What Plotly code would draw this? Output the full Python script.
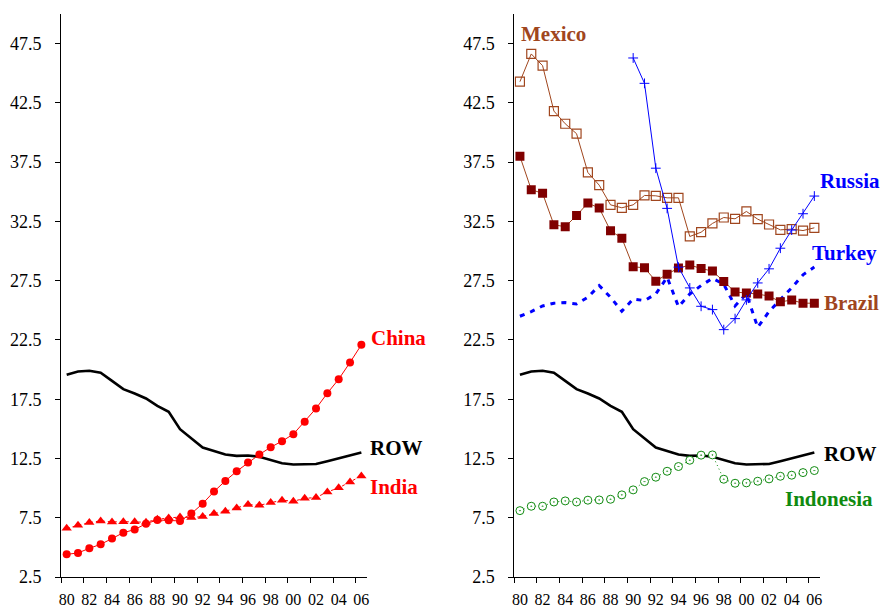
import plotly.graph_objects as go

# Years 1980-2006
years = list(range(1980, 2007))
year_labels = ["80", "82", "84", "86", "88", "90", "92", "94", "96", "98", "00", "02", "04", "06"]
y_ticks = [2.5, 7.5, 12.5, 17.5, 22.5, 27.5, 32.5, 37.5, 42.5, 47.5]

row = [19.56, 19.84, 19.90, 19.73, 19.05, 18.35, 17.98, 17.56, 16.94, 16.44,
       14.97, 14.21, 13.42, 13.14, 12.83, 12.72, 12.75, 12.64, 12.38, 12.10,
       11.99, 12.04, 12.04, 12.27, 12.52, 12.75, 13.00]
china = [4.41, 4.53, 4.92, 5.26, 5.74, 6.24, 6.50, 7.00, 7.31, 7.29,
         7.23, 7.85, 8.69, 9.71, 10.61, 11.42, 12.16, 12.83, 13.45, 13.96,
         14.55, 15.59, 16.72, 18.01, 19.19, 20.60, 22.09]
india = [6.61, 6.86, 7.09, 7.23, 7.15, 7.17, 7.17, 7.12, 7.37, 7.48,
         7.57, 7.51, 7.60, 7.85, 8.05, 8.33, 8.61, 8.55, 8.78, 8.98,
         8.89, 9.14, 9.20, 9.68, 10.02, 10.52, 11.03]
mexico = [44.29, 46.63, 45.64, 41.81, 40.74, 39.90, 36.63, 35.56, 33.90, 33.65,
          33.90, 34.69, 34.66, 34.49, 34.49, 31.23, 31.59, 32.33, 32.83, 32.72,
          33.34, 32.69, 32.24, 31.79, 31.85, 31.73, 31.96]
brazil = [37.99, 35.18, 34.87, 32.22, 32.05, 33.00, 34.05, 33.63, 31.71, 31.09,
          28.67, 28.59, 27.46, 28.05, 28.56, 28.82, 28.53, 28.31, 27.44, 26.54,
          26.46, 26.37, 26.20, 25.72, 25.86, 25.60, 25.60]
russia_years = list(range(1990, 2007))
russia = [46.29, 44.15, 36.99, 33.60, 28.64, 26.89, 25.34, 25.06, 23.37, 24.30,
          25.88, 27.31, 28.50, 30.24, 31.77, 33.15, 34.64]
turkey = [24.50, 24.89, 25.37, 25.60, 25.65, 25.54, 26.10, 27.09, 26.10, 24.92,
          25.96, 25.82, 26.38, 27.79, 25.31, 26.38, 27.09, 27.70, 27.20, 25.37,
          26.40, 23.56, 24.90, 25.90, 26.90, 28.00, 28.65]
indonesia = [8.10, 8.47, 8.47, 8.83, 8.92, 8.83, 8.98, 9.00, 9.06, 9.43,
             9.85, 10.55, 10.92, 11.42, 11.82, 12.35, 12.78, 12.80, 10.75, 10.41,
             10.44, 10.58, 10.78, 11.00, 11.09, 11.31, 11.48]

RED = "#FF0000"
BROWN = "#A0461E"
DARKRED = "#800000"
BLUE = "#0000FF"
GREEN = "#108A10"
SERIF = "Liberation Serif"

X_RANGE = [1979.5, 2006.5]
Y_RANGE = [2.5, 50]
DOM_LEFT = [0, 0.4032]
DOM_RIGHT = [0.5972, 1]

fig = go.Figure()

# Left panel
fig.add_trace(go.Scatter(x=years, y=row, mode="lines", line=dict(color="black", width=2.6),
                         xaxis="x", yaxis="y"))
fig.add_trace(go.Scatter(x=years, y=india, mode="lines+markers",
                         line=dict(color=RED, width=1, dash="dot"),
                         marker=dict(symbol="triangle-up", size=9, color=RED),
                         xaxis="x", yaxis="y"))
fig.add_trace(go.Scatter(x=years, y=china, mode="lines+markers",
                         line=dict(color=RED, width=1),
                         marker=dict(symbol="circle", size=8, color=RED),
                         xaxis="x", yaxis="y"))

# Right panel
fig.add_trace(go.Scatter(x=years, y=row, mode="lines", line=dict(color="black", width=2.6),
                         xaxis="x2", yaxis="y2"))
fig.add_trace(go.Scatter(x=years, y=indonesia, mode="lines+markers",
                         line=dict(color=GREEN, width=1, dash="1px,3px"),
                         marker=dict(symbol="circle-dot", size=8, color="white",
                                     line=dict(color=GREEN, width=1)),
                         xaxis="x2", yaxis="y2"))
fig.add_trace(go.Scatter(x=years, y=turkey, mode="lines",
                         line=dict(color=BLUE, width=3, dash="5px,6px"),
                         xaxis="x2", yaxis="y2"))
fig.add_trace(go.Scatter(x=years, y=brazil, mode="lines+markers",
                         line=dict(color=BROWN, width=1),
                         marker=dict(symbol="square", size=9, color=DARKRED),
                         xaxis="x2", yaxis="y2"))
fig.add_trace(go.Scatter(x=years, y=mexico, mode="lines+markers",
                         line=dict(color=BROWN, width=1),
                         marker=dict(symbol="square-open", size=9, color=BROWN,
                                     line=dict(width=1.2)),
                         xaxis="x2", yaxis="y2"))
fig.add_trace(go.Scatter(x=russia_years, y=russia, mode="lines+markers",
                         line=dict(color=BLUE, width=1),
                         marker=dict(symbol="cross-thin", size=7,
                                     line=dict(color=BLUE, width=1)),
                         xaxis="x2", yaxis="y2"))

xaxis_common = dict(
    range=X_RANGE, showgrid=False, zeroline=False, automargin=False,
    showline=True, linecolor="black", linewidth=1,
    tickmode="array", tickvals=years[::2], ticktext=year_labels,
    ticks="", ticklabelstandoff=8,
    tickfont=dict(family=SERIF, size=16, color="black"),
    minor=dict(tick0=1979.5, dtick=2, ticks="outside", ticklen=5, tickcolor="black",
               showgrid=False),
)
yaxis_common = dict(
    range=Y_RANGE, showgrid=False, zeroline=False, automargin=False,
    showline=True, linecolor="black", linewidth=1,
    tickmode="array", tickvals=y_ticks, ticktext=[f"{v:.1f}" for v in y_ticks],
    ticks="outside", ticklen=5, tickcolor="black", ticklabelstandoff=10,
    tickfont=dict(family=SERIF, size=18, color="black"),
)

fig.update_layout(
    width=884, height=610,
    margin=dict(l=61, r=64, t=14, b=33),
    paper_bgcolor="white", plot_bgcolor="white",
    showlegend=False,
    xaxis=dict(domain=DOM_LEFT, anchor="y", **xaxis_common),
    yaxis=dict(domain=[0, 1], anchor="x", **yaxis_common),
    xaxis2=dict(domain=DOM_RIGHT, anchor="y2", **xaxis_common),
    yaxis2=dict(domain=[0, 1], anchor="x2", **yaxis_common),
)


def paper_x(year, dom):
    """Convert a year position on a panel's x scale to paper coordinates."""
    frac = (year - X_RANGE[0]) / (X_RANGE[1] - X_RANGE[0])
    return dom[0] + frac * (dom[1] - dom[0])


# Series names drawn next to their lines: (text, year position, y value, colour, panel)
series_labels = [
    ("China", 2006.7, 22.69, RED, "left"),
    ("ROW", 2006.6, 13.42, "black", "left"),
    ("India", 2006.6, 10.13, RED, "left"),
    ("Mexico", 1979.9, 48.34, BROWN, "right"),
    ("Russia", 2006.28, 35.95, BLUE, "right"),
    ("Turkey", 2005.64, 29.81, BLUE, "right"),
    ("Brazil", 2006.68, 25.65, BROWN, "right"),
    ("ROW", 2006.65, 12.92, "black", "right"),
    ("Indonesia", 2003.2, 9.06, GREEN, "right"),
]
for text, yr, val, color, panel in series_labels:
    dom = DOM_LEFT if panel == "left" else DOM_RIGHT
    fig.add_annotation(
        x=paper_x(yr, dom), xref="paper", xanchor="left",
        y=val, yref="y" if panel == "left" else "y2", yanchor="middle",
        text=text, showarrow=False,
        font=dict(family=SERIF, size=21, color=color, weight="bold"),
    )

fig.write_html("out.html")
